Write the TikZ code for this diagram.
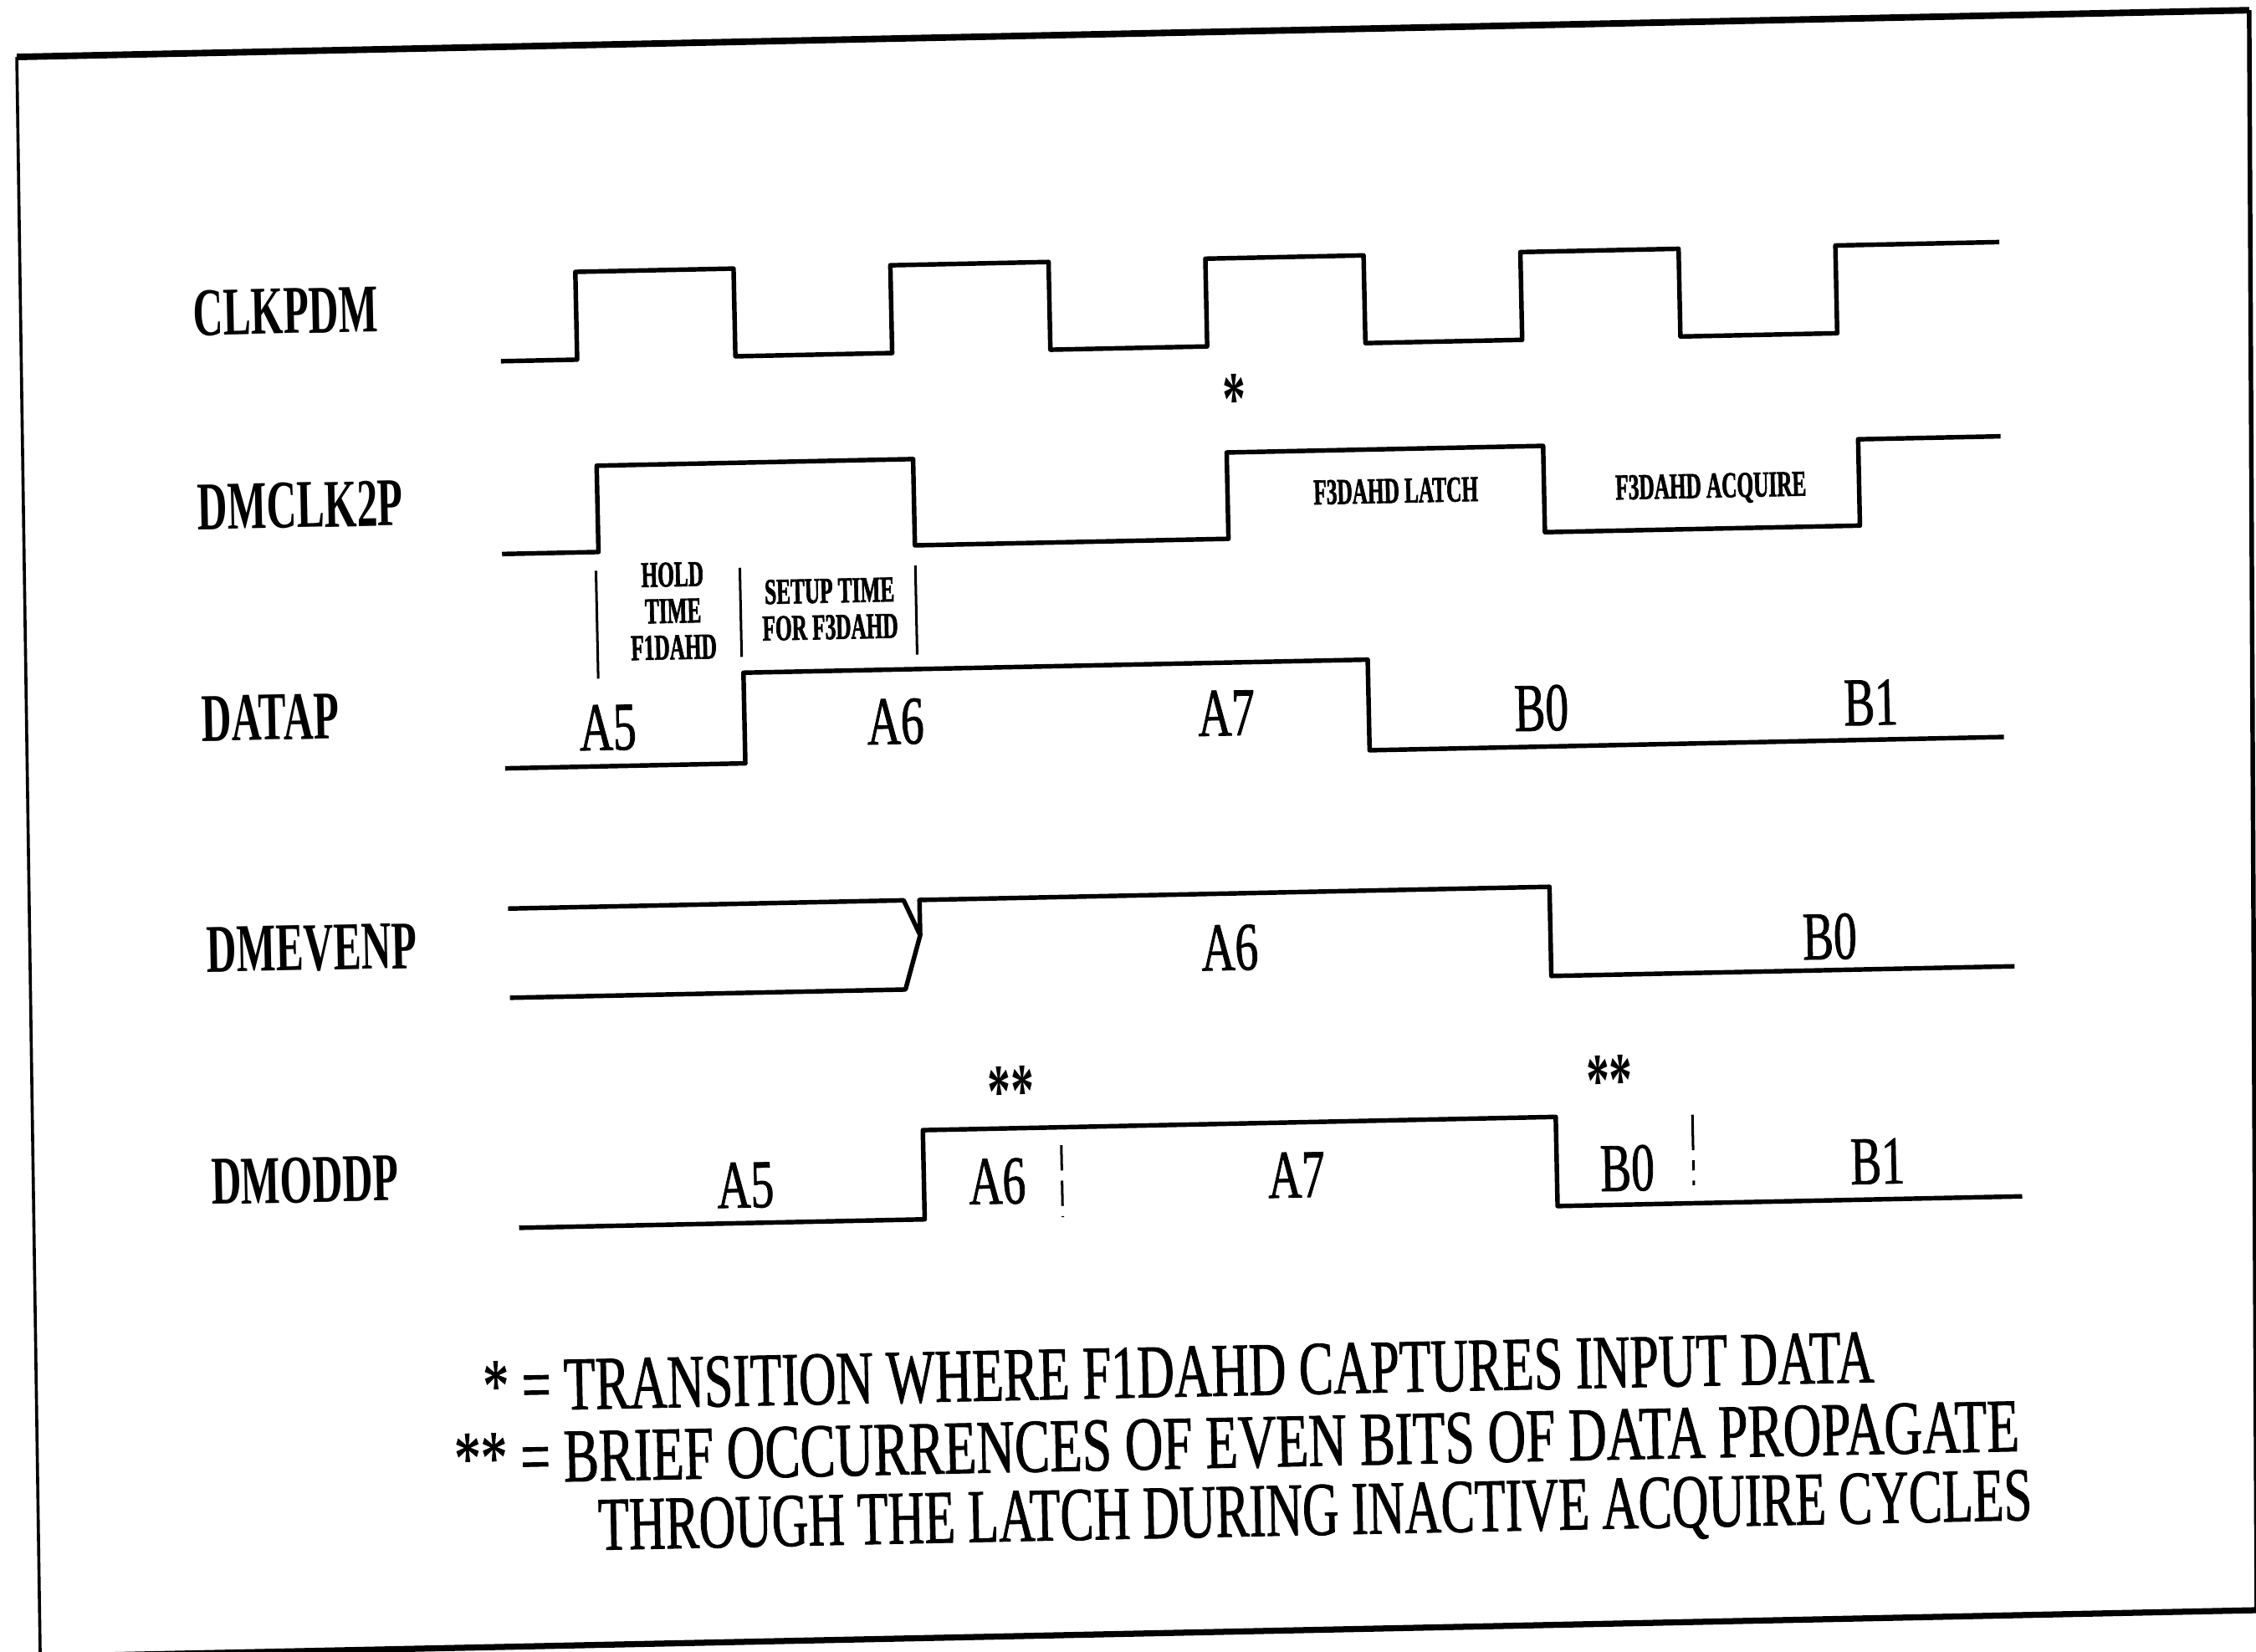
\documentclass[tikz,border=0pt]{standalone}
\usepackage{fontspec}
\newfontfamily\namefont[FakeStretch=0.61]{Liberation Serif}
\newfontfamily\notefont[FakeStretch=0.58,FakeBold=1.5]{Liberation Serif}
\newfontfamily\legfont[FakeStretch=0.68,FakeBold=1]{Liberation Serif}

\tikzset{
  sig/.style={line width=0.9pt, line join=round},
  bar/.style={line width=0.5pt},
  signame/.style={anchor=west, inner sep=0pt, text depth=0pt, font=\namefont\bfseries\fontsize{13.5}{14}\selectfont},
  dataval/.style={inner sep=0pt, text depth=0pt, font=\legfont\fontsize{13.5}{14}\selectfont},
  tinynote/.style={inner sep=0pt, align=center, font=\notefont\bfseries\fontsize{7.2}{7.2}\selectfont},
  starnote/.style={inner sep=0pt, font=\namefont\bfseries\fontsize{15}{16}\selectfont},
  legline/.style={anchor=west, inner sep=0pt, text depth=0pt, font=\legfont\fontsize{15}{16}\selectfont},
}

\begin{document}
\begin{tikzpicture}[x=0.01cm, y=-0.01cm]
    \useasboundingbox (0,0) rectangle (1568,1148);
    \fill[white] (0,0) rectangle (1568,1148);
    \clip (0,0) rectangle (1568,1148);

    \begin{scope}[rotate around={1.2:(784,574)}, every node/.append style={transform shape}]
    % frame
    \draw[line width=1.3pt] (23,23.5) -- (1575,23.5);
    \draw[line width=0.6pt] (23,23.5) -- (16,1135.5);
    \draw[line width=0.9pt] (1575,23.5) -- (1557,1135.5);
    \draw[line width=1.2pt] (16,1135.5) -- (1557,1135.5);

    % signal names
    \node[signame] (clkpdm) at (141,204) {CLKPDM};
    \node[signame] (dmclk) at (141,339) {DMCLK2P};
    \node[signame] (datap) at (141,486) {DATAP};
    \node[signame] (dmeven) at (141,647) {DMEVENP};
    \node[signame] (dmodd) at (141,808) {DMODDP};

    %%%%%%%%%%%%%%%%%%%%%%%%%%%%%%%%%%%%%%%%

    % waveforms
    \draw[sig] (355,242) -| (408,181) -| (518,242) -| (627,181) -| (737,242) -| (846,181)
        -| (956,242) -| (1065,181) -| (1175,242) -| (1284,181) -- (1398,181);
    \draw[sig] (353,376) -| (420,316) -| (640,376) -| (858,316) -| (1078,376) -| (1297,316) -- (1396,316);
    \draw[sig] (352,525) -| (519,462) -| (953,525) -- (1394,525);
    \draw[sig] (352,622.5) -- (627,622.5) -- (638,647) -- (627,684.5) -- (352,684.5);
    \draw[sig] (638,647) -- (638,622.5) -| (1076,684.5) -- (1398,684.5);
    \draw[sig] (355,844.5) -| (637,782.5) -| (1077,844.5) -- (1400,844.5);

    % hold and setup markers
    \draw[bar] (418,389) -- (418,464);
    \draw[bar] (518,389) -- (518,451);
    \draw[bar] (640,390) -- (640,452);
    \draw[bar, dash pattern=on 5pt off 2pt] (733,795) -- (733,845);
    \draw[bar, dash pattern=on 7pt off 2pt on 2pt off 2pt] (1172,783) -- (1172,832);

    % notes on DMCLK2P
    \node[tinynote] (hold) at (471,418) {HOLD\\TIME\\F1DAHD};
    \node[tinynote] (setup) at (580,419) {SETUP TIME\\FOR F3DAHD};
    \node[tinynote, text depth=0pt] (latch) at (975,345) {F3DAHD LATCH};
    \node[tinynote, text depth=0pt] (acq) at (1194,346) {F3DAHD ACQUIRE};

    % data values
    \node[dataval] (d5) at (424,498) {A5};
    \node[dataval] (d6) at (624,498) {A6};
    \node[dataval] (d7) at (854,497) {A7};
    \node[dataval] (d8) at (1073,498) {B0};
    \node[dataval] (d9) at (1302,499) {B1};

    \node[dataval] (e6) at (853,660) {A6};
    \node[dataval] (e8) at (1270,661) {B0};

    \node[dataval] (o5) at (513,818) {A5};
    \node[dataval] (o6) at (688,819) {A6};
    \node[dataval] (o7) at (896,819) {A7};
    \node[dataval] (o8) at (1126,819) {B0};
    \node[dataval] (o9) at (1300,818) {B1};

    % stars
    \node[starnote] (capt) at (864,279) {*};
    \node[starnote] (brief1) at (699,757) {**};
    \node[starnote] (brief2) at (1115,758) {**};

    % legend
    \node[legline] (leg1) at (327,954) {* = TRANSITION WHERE F1DAHD CAPTURES INPUT DATA};
    \node[legline, xscale=1.025] (leg2) at (306,1004) {** = BRIEF OCCURRENCES OF EVEN BITS OF DATA PROPAGATE};
    \node[legline, xscale=0.977] (leg3) at (405,1052) {THROUGH THE LATCH DURING INACTIVE ACQUIRE CYCLES};
    \end{scope}
\end{tikzpicture}
\end{document}
